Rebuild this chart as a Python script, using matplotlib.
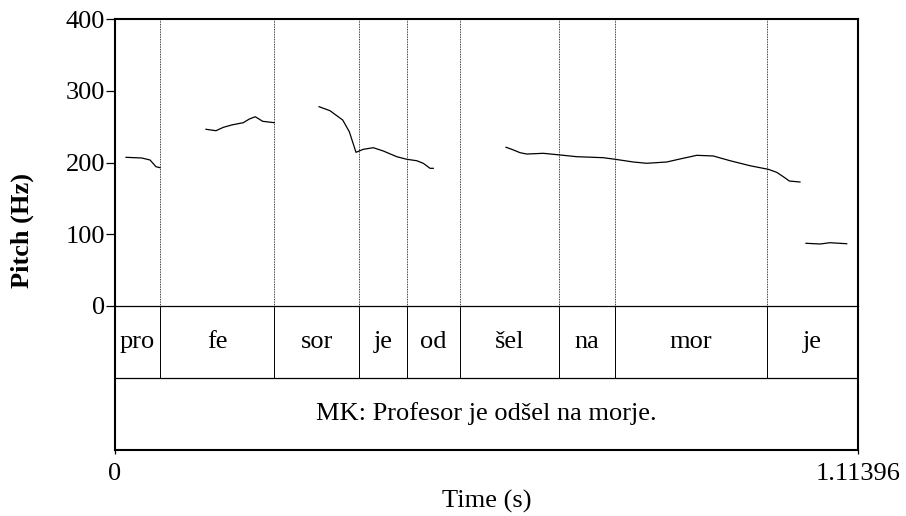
import matplotlib
matplotlib.use("Agg")
import matplotlib.pyplot as plt

plt.rcParams['font.family'] = ['Liberation Serif', 'DejaVu Serif']

# --- data ---
t_end = 1.11396
boundaries = [0.0679, 0.2388, 0.3663, 0.4373, 0.5173, 0.6657, 0.7492, 0.9780]
syllables = ['pro', 'fe', 'sor', 'je', 'od', 'šel', 'na', 'mor', 'je']
sentence = 'MK: Profesor je odšel na morje.'

# pitch contour pieces (time s, Hz)
seg1_t = [0.0165, 0.0400, 0.0525, 0.0615, 0.0675]
seg1_f = [207.2, 206.3, 203.5, 194.1, 192.8]

seg2_t = [0.1364, 0.1514, 0.1624, 0.1750, 0.1924, 0.2014, 0.2103, 0.2214, 0.2388]
seg2_f = [246.3, 244.3, 249.0, 252.3, 255.5, 260.6, 263.8, 257.4, 255.5]

seg3_t = [0.3059, 0.3223, 0.3414, 0.3513, 0.3613, 0.3723, 0.3873, 0.4023,
          0.4224, 0.4373, 0.4523, 0.4622, 0.4723, 0.4772]
seg3_f = [277.8, 272.2, 259.2, 242.9, 214.2, 218.4, 220.6, 216.0,
          208.1, 204.5, 202.5, 198.9, 191.9, 191.9]

seg4_t = [0.5862, 0.5948, 0.6072, 0.6173, 0.6422, 0.6672, 0.6922, 0.7321,
          0.7497, 0.7771, 0.7972, 0.8272, 0.8471, 0.8722, 0.8970, 0.9221,
          0.9521, 0.9795, 0.9921, 1.0020, 1.0110, 1.0270]
seg4_f = [221.2, 218.4, 213.7, 211.8, 212.8, 210.5, 208.1, 206.7,
          204.5, 200.7, 198.9, 200.7, 204.9, 210.0, 209.1, 202.5,
          195.5, 190.5, 186.3, 180.2, 174.2, 172.8]

seg5_t = [1.036, 1.057, 1.072, 1.097]
seg5_f = [87.4, 86.4, 88.2, 86.8]

contours = [(seg1_t, seg1_f), (seg2_t, seg2_f), (seg3_t, seg3_f),
            (seg4_t, seg4_f), (seg5_t, seg5_f)]

W, H = 906, 516
FS = 19
fig = plt.figure(figsize=(W / 100, H / 100), dpi=100)

x0, x1 = 115, 858
y_top, y_zero, y_mid, y_bot = 19, 306, 378, 450

def rect(ytop, ybot):
    return [x0 / W, (H - ybot) / H, (x1 - x0) / W, (ybot - ytop) / H]

ax = fig.add_axes(rect(y_top, y_zero))
tx = fig.add_axes(rect(y_zero, y_bot))

# --- pitch panel ---
for t, f in contours:
    ax.plot(t, f, color='black', linewidth=0.9)
for b in boundaries:
    ax.axvline(b, color='black', linestyle=(0, (1, 1)), linewidth=0.6)

ax.set_xlim(0, t_end)
ax.set_ylim(0, 400)
ax.set_yticks([0, 100, 200, 300, 400])
ax.set_xticks([])
ax.tick_params(axis='y', direction='out', length=6.5, width=0.9, labelsize=FS, pad=0.5)
ax.spines['bottom'].set_visible(False)
for s in ['left', 'top', 'right']:
    ax.spines[s].set_linewidth(1.5)

# --- tier panel ---
tx.set_xlim(0, t_end)
tx.set_ylim(0, 2)
edges = [0.0] + boundaries + [t_end]
for b in boundaries:
    tx.plot([b, b], [1, 2], color='black', linewidth=0.7)
tx.axhline(1, color='black', linewidth=0.9)
for i, lab in enumerate(syllables):
    tx.text((edges[i] + edges[i + 1]) / 2, 1.5, lab, ha='center', va='center', fontsize=FS)
tx.text(t_end / 2, 0.5, sentence, ha='center', va='center', fontsize=FS)

tx.set_yticks([])
tx.set_xticks([0, t_end])
tx.set_xticklabels(['0', '1.11396'])
tx.tick_params(axis='x', direction='out', length=3, width=0.9, labelsize=FS, pad=6)
tx.spines['top'].set_linewidth(0.9)
for s in ['left', 'bottom', 'right']:
    tx.spines[s].set_linewidth(1.5)

fig.text(487 / W, 1 - 501 / H, 'Time (s)', ha='center', va='center', fontsize=FS)
fig.text(22 / W, 1 - 231 / H, 'Pitch (Hz)', ha='center', va='center', fontsize=FS,
         fontweight='bold', rotation=90)

fig.savefig('out.png', dpi=100)
